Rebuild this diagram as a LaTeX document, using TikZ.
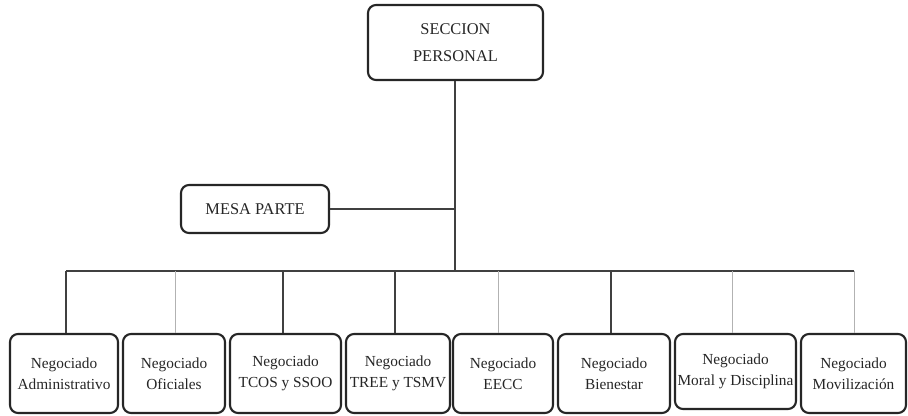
\documentclass[tikz,border=0pt]{standalone}
\usepackage{fontspec}
\setmainfont{Liberation Serif}
\begin{document}
\begin{tikzpicture}[x=0.75pt,y=-0.75pt,
  box/.style 2 args={draw=black!85, line width=1.6pt, rounded corners=6pt, fill=white,
    minimum width=#1*0.75pt, minimum height=#2*0.75pt, align=center, inner sep=0pt,
    text=black!85},
  topfont/.style={font=\fontsize{12.3}{20.5}\selectfont},
  botfont/.style={font=\fontsize{11.5}{15.5}\selectfont},
  dark/.style={draw=black!75, line width=0.9pt},
  light/.style={draw=black!30, line width=0.7pt}]
\useasboundingbox (0,0) rectangle (908,415);
% nodes
\node[box={175}{75}, topfont] (sp) at (455.5,42.5) {SECCION\\PERSONAL};
\node[box={148}{48}, topfont] (mp) at (255,209) {MESA PARTE};
\coordinate (jmp) at (455,209);
\coordinate (bl) at (66,271);
\coordinate (br) at (854,271);
\coordinate (bc) at (455,271);
\node[box={108}{79}, botfont] (b1) at (64,373.5) {Negociado\\Administrativo};
\node[box={102}{79}, botfont] (b2) at (174,373.5) {Negociado\\Oficiales};
\node[box={111}{79}, botfont] (b3) at (285.5,373.5) {Negociado\\TCOS y SSOO};
\node[box={104}{79}, botfont] (b4) at (398,373.5) {Negociado\\TREE y TSMV};
\node[box={100}{79}, botfont] (b5) at (503,373.5) {Negociado\\EECC};
\node[box={112}{79}, botfont] (b6) at (614,373.5) {Negociado\\Bienestar};
\node[box={121}{75}, botfont] (b7) at (735.5,371.5) {Negociado\\Moral y Disciplina};
\node[box={105}{79}, botfont] (b8) at (853.5,373.5) {Negociado\\Movilización};
\coordinate (d1) at (66,271);
\coordinate (d2) at (175,271);
\coordinate (d3) at (283,271);
\coordinate (d4) at (395,271);
\coordinate (d5) at (498,271);
\coordinate (d6) at (611,271);
\coordinate (d7) at (732,271);
\coordinate (d8) at (854,271);
% connectors
\draw[dark] (sp.south -| bc) -- (bc);
\draw[dark] (mp.east) -- (jmp);
\draw[dark] (bl) -- (br);
\draw[dark] (d1) -- (d1 |- b1.north);
\draw[light] (d2) -- (d2 |- b2.north);
\draw[dark] (d3) -- (d3 |- b3.north);
\draw[dark] (d4) -- (d4 |- b4.north);
\draw[light] (d5) -- (d5 |- b5.north);
\draw[dark] (d6) -- (d6 |- b6.north);
\draw[light] (d7) -- (d7 |- b7.north);
\draw[light] (d8) -- (d8 |- b8.north);
\end{tikzpicture}
\end{document}
